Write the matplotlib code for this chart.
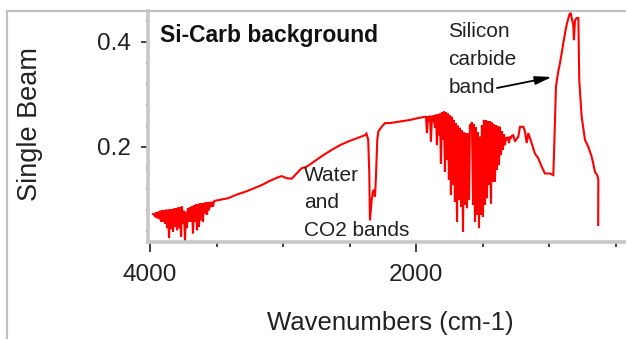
import matplotlib
matplotlib.use("Agg")
import matplotlib.pyplot as plt
from matplotlib.ticker import MultipleLocator, FixedLocator
from matplotlib.lines import Line2D

plt.rcParams['font.family'] = ['Liberation Sans', 'DejaVu Sans']

# single beam spectrum (wavenumber cm-1, single beam)
# noisy water region at the high wavenumber end
wn_water_hi = [
    3977, 3962, 3955, 3947, 3940, 3932, 3925, 3917, 3910, 3902,
    3895, 3887, 3880, 3872, 3865, 3857, 3850, 3842, 3835, 3827,
    3820, 3812, 3805, 3797, 3790, 3782, 3775, 3767, 3760, 3752,
    3745, 3737, 3730, 3722, 3715, 3707, 3700, 3692, 3685, 3677,
    3670, 3662, 3655, 3647, 3640, 3632, 3625, 3617, 3610, 3602,
    3595, 3587, 3580, 3572, 3564, 3557, 3549, 3542, 3534, 3527,
    3519, 3512,
]
sb_water_hi = [
    0.072, 0.068, 0.075, 0.064, 0.076, 0.062, 0.078, 0.057, 0.079, 0.057,
    0.079, 0.053, 0.080, 0.045, 0.080, 0.026, 0.081, 0.043, 0.081, 0.038,
    0.082, 0.047, 0.083, 0.041, 0.084, 0.045, 0.085, 0.029, 0.086, 0.054,
    0.078, 0.019, 0.076, 0.045, 0.083, 0.057, 0.085, 0.057, 0.087, 0.035,
    0.088, 0.057, 0.090, 0.041, 0.091, 0.048, 0.092, 0.060, 0.092, 0.057,
    0.093, 0.072, 0.094, 0.070, 0.094, 0.079, 0.095, 0.085, 0.095, 0.086,
    0.096, 0.097,
]
# smooth rise, CO2 dip
wn_mid = [
    3452, 3412, 3347, 3287, 3227, 3161, 3099, 3036, 3011, 2973,
    2936, 2898, 2861, 2823, 2761, 2698, 2635, 2573, 2511, 2448,
    2385, 2374, 2361, 2353, 2348, 2335, 2323, 2310, 2303, 2293,
    2285, 2260, 2235, 2198, 2122, 2047, 1997,
]
sb_mid = [
    0.100, 0.102, 0.109, 0.114, 0.120, 0.127, 0.135, 0.142, 0.144, 0.140,
    0.139, 0.149, 0.159, 0.162, 0.173, 0.184, 0.194, 0.203, 0.210, 0.216,
    0.222, 0.225, 0.213, 0.149, 0.060, 0.099, 0.118, 0.105, 0.143, 0.213,
    0.229, 0.238, 0.245, 0.245, 0.248, 0.251, 0.254,
]
# dense water bending region
wn_water_lo = [
    1935, 1927, 1920, 1912, 1905, 1897, 1890, 1882, 1875, 1867,
    1860, 1852, 1845, 1837, 1830, 1822, 1815, 1807, 1800, 1792,
    1785, 1777, 1770, 1762, 1755, 1747, 1740, 1732, 1725, 1717,
    1710, 1702, 1694, 1687, 1679, 1672, 1664, 1657, 1649, 1642,
    1634, 1627, 1619, 1612, 1604, 1597, 1589, 1582, 1574, 1567,
    1559, 1552, 1544, 1537, 1529, 1522, 1514, 1507, 1499, 1492,
    1484, 1477, 1469, 1462, 1454, 1447, 1439, 1432, 1424, 1417,
    1409, 1402, 1394, 1387, 1379, 1372, 1364, 1357, 1349, 1342,
    1334, 1326, 1319, 1311, 1304, 1296, 1289, 1281,
]
sb_water_lo = [
    0.257, 0.257, 0.226, 0.258, 0.249, 0.259, 0.210, 0.259, 0.247, 0.260,
    0.236, 0.261, 0.203, 0.262, 0.222, 0.263, 0.168, 0.266, 0.213, 0.267,
    0.152, 0.266, 0.175, 0.263, 0.137, 0.260, 0.108, 0.257, 0.127, 0.251,
    0.095, 0.245, 0.057, 0.240, 0.099, 0.236, 0.086, 0.231, 0.038, 0.227,
    0.089, 0.226, 0.083, 0.226, 0.099, 0.241, 0.241, 0.247, 0.089, 0.243,
    0.057, 0.237, 0.070, 0.228, 0.045, 0.219, 0.070, 0.241, 0.067, 0.251,
    0.089, 0.250, 0.102, 0.249, 0.127, 0.248, 0.092, 0.246, 0.133, 0.243,
    0.133, 0.241, 0.156, 0.239, 0.165, 0.238, 0.184, 0.229, 0.194, 0.224,
    0.203, 0.218, 0.213, 0.219, 0.207, 0.219, 0.217, 0.221,
]
# shoulder and silicon carbide band
wn_sic = [
    1272, 1259, 1234, 1221, 1196, 1184, 1171, 1159, 1134, 1109,
    1084, 1058, 1034, 996, 971, 966, 951, 934, 921, 908,
    896, 883, 871, 851, 840, 833, 821, 816, 808, 795,
    783, 776, 758, 733, 708, 683, 671, 658, 641, 633,
    634,
]
sb_sic = [
    0.222, 0.210, 0.219, 0.238, 0.238, 0.229, 0.207, 0.226, 0.207, 0.187,
    0.178, 0.162, 0.149, 0.149, 0.146, 0.184, 0.314, 0.343, 0.359, 0.378,
    0.397, 0.416, 0.432, 0.451, 0.455, 0.445, 0.432, 0.403, 0.441, 0.445,
    0.445, 0.327, 0.257, 0.213, 0.200, 0.181, 0.168, 0.152, 0.146, 0.137,
    0.051,
]

wavenumber = wn_water_hi + wn_mid + wn_water_lo + wn_sic
single_beam = sb_water_hi + sb_mid + sb_water_lo + sb_sic

title = "Si-Carb background"
sic_lines = ["Silicon", "carbide", "band"]
water_lines = ["Water", "and", "CO2 bands"]

fig = plt.figure(figsize=(6.26, 3.39), dpi=100)
ax = fig.add_axes([0.2364, 0.2861, 0.7636, 0.6815])

ax.plot(wavenumber, single_beam, color='#ff0000', lw=1.5, solid_joinstyle='miter')

ax.set_xlim(4015, 425)
ax.set_ylim(0.0185, 0.4585)

ax.xaxis.set_major_locator(FixedLocator([4000, 2000]))
ax.xaxis.set_minor_locator(MultipleLocator(500))
ax.yaxis.set_major_locator(FixedLocator([0.2, 0.4]))
ax.yaxis.set_minor_locator(MultipleLocator(0.04))
ax.set_xticklabels(['4000', '2000'])
ax.set_yticklabels(['0.2', '0.4'])

for s in ['top', 'right']:
    ax.spines[s].set_visible(False)
for s in ['left', 'bottom']:
    ax.spines[s].set_color('#c8c8c8')
    ax.spines[s].set_linewidth(2.6)

ax.tick_params(axis='x', which='major', direction='out', length=7, width=1.2,
               color='#222222', labelsize=17.5, labelcolor='#222222', pad=9)
ax.tick_params(axis='x', which='minor', direction='out', length=3.5, width=1.2,
               color='#222222')
ax.tick_params(axis='y', which='major', direction='out', length=5, width=1.2,
               color='#222222', labelsize=17.5, labelcolor='#222222', pad=7)
ax.tick_params(axis='y', which='minor', direction='out', length=1.5, width=1.6,
               color='#222222')

fig.text(390 / 626, 1 - 323 / 339, "Wavenumbers (cm-1)", fontsize=18.5,
         color='#222222', ha='center', va='center')
fig.text(30 / 626, 1 - 124.5 / 339, "Single Beam", fontsize=19.5,
         color='#222222', ha='center', va='center', rotation=90)

ax.text(3925, 0.4, title, fontsize=16.5, fontweight='bold', color='#111111',
        ha='left', va='baseline')

for line, yv in zip(sic_lines, [0.4084, 0.3556, 0.3023]):
    ax.text(1760, yv, line, fontsize=15, color='#222222', ha='left', va='baseline')
for line, yv in zip(water_lines, [0.1352, 0.0832, 0.0299]):
    ax.text(2843, yv, line, fontsize=15, color='#222222', ha='left', va='baseline')

ax.annotate("", xy=(981, 0.3328), xytext=(1394, 0.3118),
            arrowprops=dict(arrowstyle='-|>,head_width=0.25,head_length=1.0',
                            color='black', lw=1.3, shrinkA=0, shrinkB=0))

# panel frame, top and left
fig.add_artist(Line2D([7 / 626, 1], [1 - 11 / 339, 1 - 11 / 339],
                      color='#c0c0c0', lw=1.6))
fig.add_artist(Line2D([7 / 626, 7 / 626], [0, 1 - 11 / 339],
                      color='#c0c0c0', lw=1.6))

fig.savefig('out.png', dpi=100, facecolor='white')
